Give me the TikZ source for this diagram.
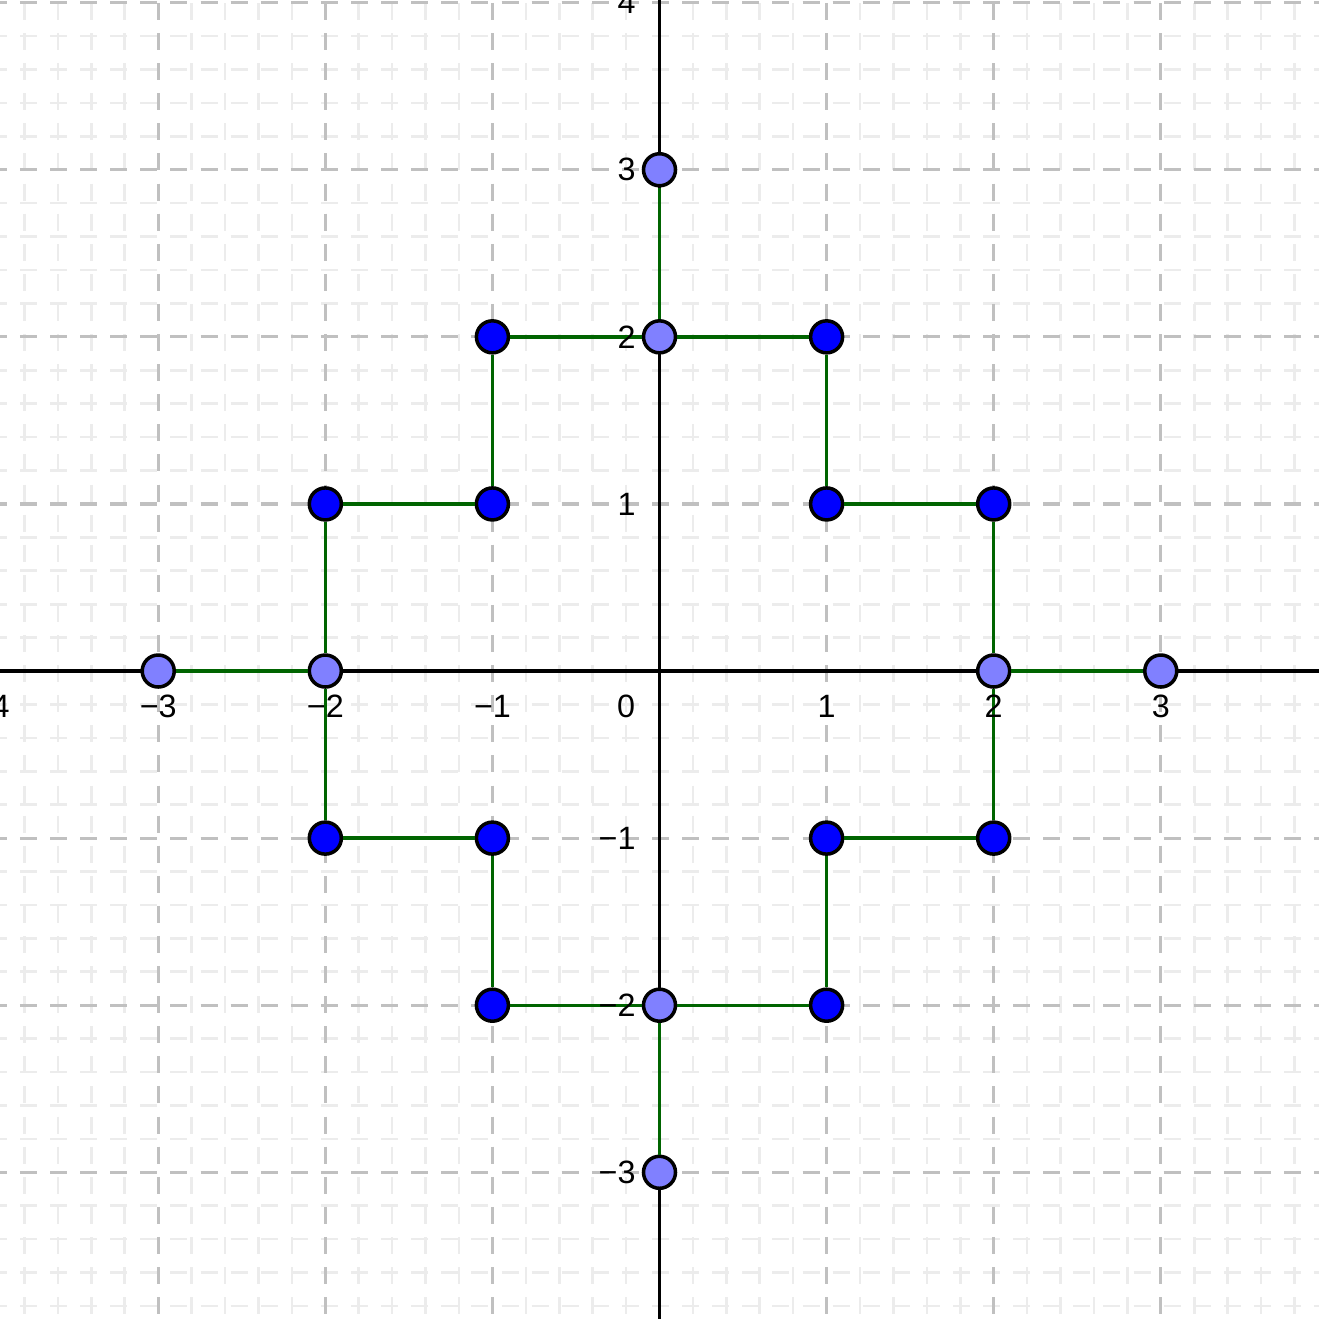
\documentclass[tikz,border=0pt]{standalone}
\usepackage{fontspec}
\setmainfont{Liberation Sans}
\definecolor{minorgray}{RGB}{236,236,236}
\definecolor{majorgray}{RGB}{192,192,192}
\definecolor{seggreen}{RGB}{0,100,0}
\definecolor{darkpt}{RGB}{0,0,255}
\definecolor{lightpt}{RGB}{128,128,255}
\begin{document}
\begin{tikzpicture}[x=2cm,y=2cm,
  minorh/.style={draw=minorgray,line width=0.9pt,dash pattern=on 5.79pt off 4.46pt,dash phase=3.44pt},
  minorv/.style={draw=minorgray,line width=0.9pt,dash pattern=on 5.79pt off 4.46pt,dash phase=9.23pt},
  majorh/.style={draw=majorgray,line width=1.1pt,dash pattern=on 5.79pt off 4.46pt,dash phase=3.44pt},
  majorv/.style={draw=majorgray,line width=1.1pt,dash pattern=on 5.79pt off 4.46pt,dash phase=9.23pt},
  axis/.style={draw=black,line width=1.1pt},
  seg/.style={draw=seggreen,line width=1.15pt},
  ptbase/.style={circle,draw=black,line width=1.2pt,minimum size=10.9pt,inner sep=0pt},
  darkdot/.style={ptbase,fill=darkpt},
  lightdot/.style={ptbase,fill=lightpt},
  ticklbl/.style={inner sep=0pt,font=\fontsize{11}{13}\selectfont}
]
\useasboundingbox (-3.947,-3.878) rectangle (3.947,4.016);
% minor grid
\foreach \k in {-19,...,20}{
  \draw[minorh] (-3.947,\k*0.2) -- (3.947,\k*0.2);
}
\foreach \k in {-19,...,19}{
  \draw[minorv] (\k*0.2,4.016) -- (\k*0.2,-3.878);
}
% major grid
\foreach \k in {-3,...,4}{
  \draw[majorh] (-3.947,\k) -- (3.947,\k);
}
\foreach \k in {-3,...,3}{
  \draw[majorv] (\k,4.016) -- (\k,-3.878);
}
% axes
\draw[axis] (-3.947,0) -- (3.947,0);
\draw[axis] (0,-3.878) -- (0,4.016);
% points
\node[lightdot] (t3) at (0,3) {};
\node[lightdot] (t2) at (0,2) {};
\node[lightdot] (l3) at (-3,0) {};
\node[lightdot] (l2) at (-2,0) {};
\node[lightdot] (r2) at (2,0) {};
\node[lightdot] (r3) at (3,0) {};
\node[lightdot] (b2) at (0,-2) {};
\node[lightdot] (b3) at (0,-3) {};
\node[darkdot] (pa) at (-1,2) {};
\node[darkdot] (pb) at (1,2) {};
\node[darkdot] (pc) at (-2,1) {};
\node[darkdot] (pd) at (-1,1) {};
\node[darkdot] (pe) at (1,1) {};
\node[darkdot] (pf) at (2,1) {};
\node[darkdot] (pg) at (-2,-1) {};
\node[darkdot] (ph) at (-1,-1) {};
\node[darkdot] (pi) at (1,-1) {};
\node[darkdot] (pj) at (2,-1) {};
\node[darkdot] (pk) at (-1,-2) {};
\node[darkdot] (pm) at (1,-2) {};
% segments
\draw[seg] (t3) -- (t2);
\draw[seg] (pa) -- (t2);
\draw[seg] (t2) -- (pb);
\draw[seg] (pa) -- (pd);
\draw[seg] (pb) -- (pe);
\draw[seg] (pc) -- (pd);
\draw[seg] (pe) -- (pf);
\draw[seg] (pc) -- (l2);
\draw[seg] (l2) -- (pg);
\draw[seg] (pf) -- (r2);
\draw[seg] (r2) -- (pj);
\draw[seg] (l3) -- (l2);
\draw[seg] (r2) -- (r3);
\draw[seg] (pg) -- (ph);
\draw[seg] (pi) -- (pj);
\draw[seg] (ph) -- (pk);
\draw[seg] (pi) -- (pm);
\draw[seg] (pk) -- (b2);
\draw[seg] (b2) -- (pm);
\draw[seg] (b2) -- (b3);
% tick labels
\foreach \v/\t in {-4/−4,-3/−3,-2/−2,-1/−1,1/1,2/2,3/3}{
  \node[ticklbl] (xl\v) at (\v,-0.21) {\t};
}
\node[ticklbl] (zero) at (-0.2,-0.21) {0};
\foreach \v/\t in {4/4,3/3,2/2,1/1,-1/−1,-2/−2,-3/−3}{
  \node[ticklbl,anchor=east] (yl\v) at (-0.14,\v) {\t};
}
\end{tikzpicture}
\end{document}
